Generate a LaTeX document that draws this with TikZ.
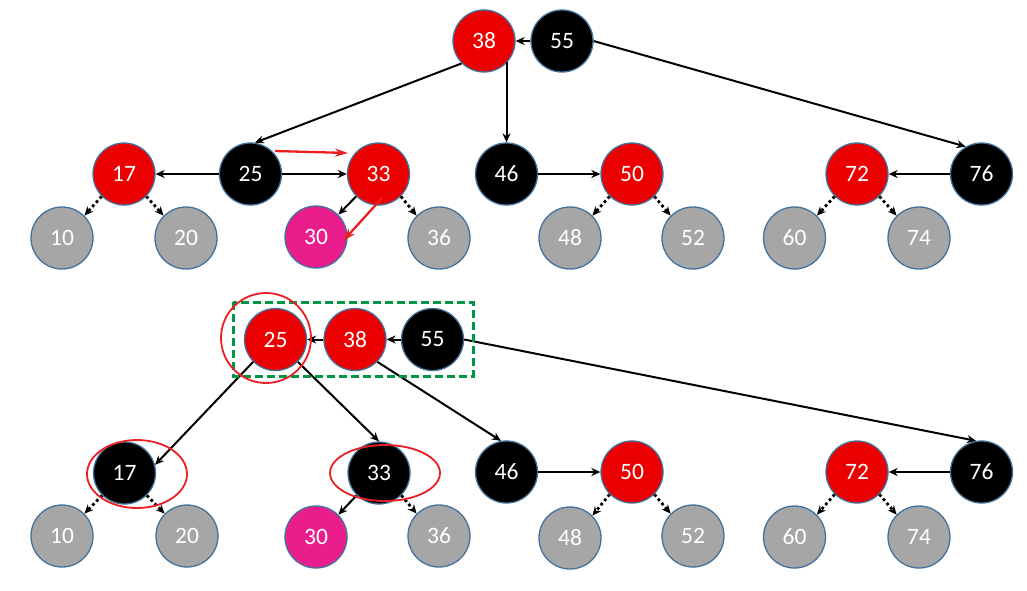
\documentclass[tikz,border=0pt]{standalone}
\usepackage{fontspec}
\setmainfont{Carlito}
\usetikzlibrary{arrows.meta}
\definecolor{nodered}{RGB}{234,0,0}
\definecolor{nilgray}{RGB}{166,166,166}
\definecolor{newpink}{RGB}{233,30,140}
\definecolor{rimblue}{RGB}{65,113,156}
\definecolor{hintred}{RGB}{235,30,35}
\definecolor{boxgreen}{RGB}{0,150,70}
\begin{document}
\begin{tikzpicture}[x=1pt,y=-1pt,
    key/.style={circle, minimum size=62pt, inner sep=0pt, draw=rimblue, line width=1.3pt,
      text=white, font=\fontsize{23.5}{27}\selectfont},
    redkey/.style={key, fill=nodered},
    blackkey/.style={key, fill=black},
    nilkey/.style={key, fill=nilgray},
    newkey/.style={key, fill=newpink},
    link/.style={-{Stealth[length=9pt,width=8pt]}, line width=2pt},
    nillink/.style={-{Stealth[length=9pt,width=8pt]}, line width=2.8pt, dash pattern=on 2.8pt off 2.8pt},
    hint/.style={-{Stealth[length=13pt,width=8pt]}, line width=2.3pt, draw=hintred, fill=hintred},
    ring/.style={draw=hintred, line width=1.8pt},
    group/.style={draw=boxgreen, line width=3pt, dash pattern=on 8pt off 4pt}]
    \useasboundingbox (0,0) rectangle (1027,590);

    % before the split
    \node[redkey] (t38) at (484,41) {38};
    \node[blackkey] (t55) at (562,41) {55};
    \node[redkey] (t17) at (124,174) {17};
    \node[blackkey] (t25) at (250.5,174) {25};
    \node[redkey] (t33) at (378.5,174) {33};
    \node[blackkey] (t46) at (506.5,174) {46};
    \node[redkey] (t50) at (632,174) {50};
    \node[redkey] (t72) at (857,174) {72};
    \node[blackkey] (t76) at (981.5,174) {76};
    \node[nilkey] (t10) at (62,238) {10};
    \node[nilkey] (t20) at (186,238) {20};
    \node[newkey] (t30) at (316,237) {30};
    \node[nilkey] (t36) at (439,238) {36};
    \node[nilkey] (t48) at (570,238) {48};
    \node[nilkey] (t52) at (693,238) {52};
    \node[nilkey] (t60) at (794.5,238) {60};
    \node[nilkey] (t74) at (919,238) {74};

    \draw[link] (t55.west) -- (t38.east);
    \draw[link] (t38.south west) -- (t25.82);
    \draw[link] (t46.north |- t38.-42) -- (t46.north);
    \draw[link] (t55.east) -- (t76.120);
    \draw[link] (t25.west) -- (t17.east);
    \draw[link] (t25.east) -- (t33.west);
    \draw[link] (t46.east) -- (t50.west);
    \draw[link] (t76.west) -- (t72.east);
    \draw[link] (t33.south west) -- (t30.north east);
    \draw[nillink] (t17.south west) -- (t10.north east);
    \draw[nillink] (t17.south east) -- (t20.north west);
    \draw[nillink] (t33.south east) -- (t36.north west);
    \draw[nillink] (t50.south west) -- (t48.north east);
    \draw[nillink] (t50.south east) -- (t52.north west);
    \draw[nillink] (t72.south west) -- (t60.north east);
    \draw[nillink] (t72.south east) -- (t74.north west);

    \coordinate (h1) at (275,151);
    \coordinate (h2) at (348,153);
    \coordinate (h3) at (382,198);
    \coordinate (h4) at (343,241);
    \draw[hint] (h1) -- (h2);
    \draw[hint] (h3) -- (h4);

    % after the split
    \node[redkey] (b25) at (275.5,339.5) {25};
    \node[redkey] (b38) at (355,339.5) {38};
    \node[blackkey] (b55) at (432.5,339.5) {55};
    \node[blackkey] (b17) at (124.5,473) {17};
    \node[blackkey] (b33) at (379,473) {33};
    \node[blackkey] (b46) at (506.5,472) {46};
    \node[redkey] (b50) at (632,472) {50};
    \node[redkey] (b72) at (857,472) {72};
    \node[blackkey] (b76) at (981.5,472) {76};
    \node[nilkey] (b10) at (62,536) {10};
    \node[nilkey] (b20) at (187,536) {20};
    \node[newkey] (b30) at (316,537) {30};
    \node[nilkey] (b36) at (439,536) {36};
    \node[nilkey] (b48) at (570,538) {48};
    \node[nilkey] (b52) at (693,536) {52};
    \node[nilkey] (b60) at (794.5,537) {60};
    \node[nilkey] (b74) at (919,537) {74};

    \draw[link] (b55.west) -- (b38.east);
    \draw[link] (b38.west) -- (b25.east);
    \draw[link] (b25.south west) -- (b17.15);
    \draw[link] (b25.south east) -- (b33.north);
    \draw[link] (b38.south east) -- (b46.100);
    \draw[link] (b55.east) -- (b76.100);
    \draw[link] (b46.east) -- (b50.west);
    \draw[link] (b76.west) -- (b72.east);
    \draw[link] (b33.south west) -- (b30.north east);
    \draw[nillink] (b17.south west) -- (b10.north east);
    \draw[nillink] (b17.south east) -- (b20.north west);
    \draw[nillink] (b33.south east) -- (b36.north west);
    \draw[nillink] (b50.south west) -- (b48.north east);
    \draw[nillink] (b50.south east) -- (b52.north west);
    \draw[nillink] (b72.south west) -- (b60.north east);
    \draw[nillink] (b72.south east) -- (b74.north west);

    \draw[group] (233,302) rectangle (473,376);
    \draw[ring] (266,338) circle[radius=45];
    \draw[ring] (137,474) ellipse[x radius=50, y radius=34];
    \draw[ring] (385,473) ellipse[x radius=55, y radius=28];
\end{tikzpicture}
\end{document}
